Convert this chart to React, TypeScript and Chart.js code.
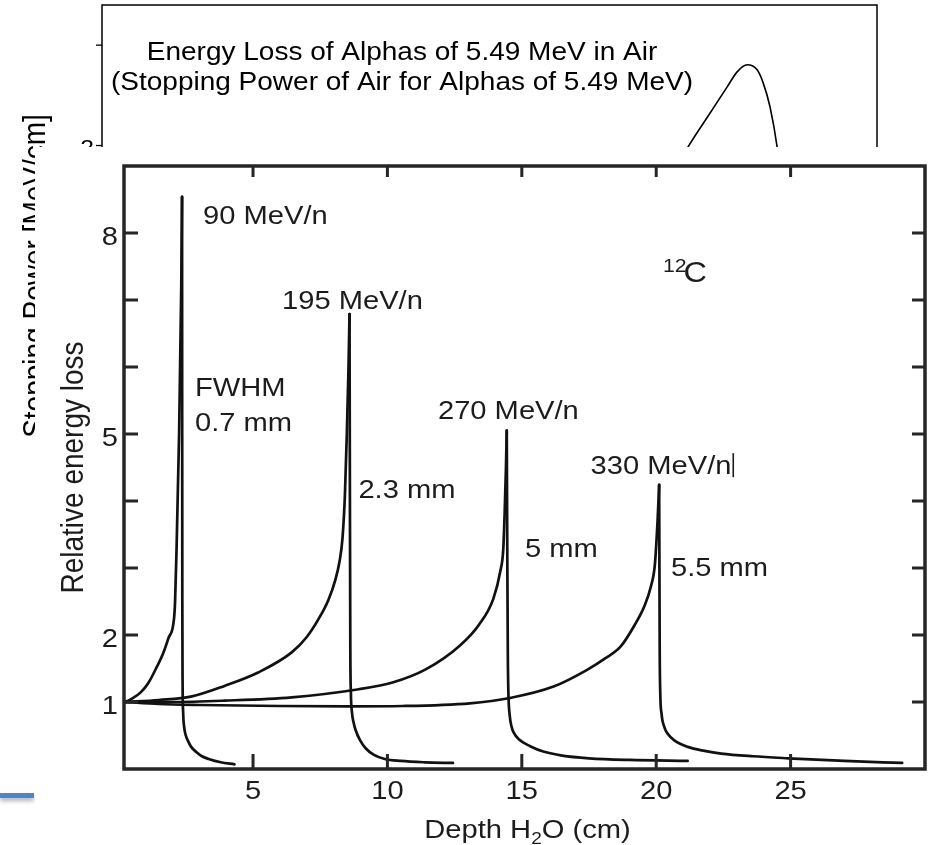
import React, { useEffect, useRef } from 'react';
import { Chart, registerables } from 'chart.js';

Chart.register(...registerables);

const FONT = '"Liberation Sans", Arial, Helvetica, sans-serif';
const SX = 1.12;
const INK = '#1c1c1c';

// ---------- background chart: stopping power of air for 5.49 MeV alphas ----------
const alphaDepth = [0, 0.5, 1.0, 1.5, 2.0, 2.5, 2.9, 3.2, 3.403, 3.531, 3.63, 3.688, 3.746, 3.804, 3.839, 3.879, 3.92, 3.98, 4.05, 4.12];
const alphaStopping = [0.9, 0.95, 1.0, 1.07, 1.16, 1.3, 1.47, 1.68, 1.993, 2.162, 2.292, 2.367, 2.402, 2.377, 2.312, 2.192, 1.993, 1.55, 0.9, 0.3];
const alphaYTicks = [0, 0.5, 1, 1.5, 2, 2.5];
const alphaYLabels = [0, 1, 2];
const alphaTitleLines = ['Energy Loss of Alphas of 5.49 MeV in Air', '(Stopping Power of Air for Alphas of 5.49 MeV)'];
const alphaTitleAnchor = { x: 1.742, y: [2.427, 2.277] };
const alphaYTitle = 'Stopping Power [MeV/cm]';

// ---------- main chart: Bragg curves of 12C in water ----------
const depth90 = [0.25, 0.5, 0.81, 1.1, 1.44, 1.65, 1.85, 2.06, 2.1, 2.15, 2.25, 2.33, 2.36,
  2.365, 2.37, 2.38, 2.4, 2.44, 2.5, 2.58, 2.7, 2.9, 3.1, 3.35, 3.8, 4.31];
const loss90 = [1.0, 1.05, 1.14, 1.28, 1.54, 1.72, 1.95, 2.24, 2.5, 3.2, 5.0, 7.2, 8.54,
  5.0, 2.5, 1.3, 0.85, 0.62, 0.5, 0.42, 0.33, 0.25, 0.19, 0.15, 0.1, 0.07];

const depth195 = [0.25, 1.5, 2.69, 3.94, 5.19, 6.44, 7.0, 7.44, 7.8, 8.06, 8.22, 8.33, 8.42, 8.49, 8.55, 8.59,
  8.605, 8.62, 8.64, 8.68, 8.75, 8.81, 8.98, 9.19, 9.5, 9.9, 10.5, 11.4, 12.44];
const loss195 = [1.0, 1.03, 1.08, 1.24, 1.44, 1.74, 1.97, 2.24, 2.52, 2.82, 3.1, 3.45, 4.1, 5.0, 5.95, 6.79,
  4.0, 1.8, 1.15, 0.85, 0.68, 0.59, 0.43, 0.31, 0.21, 0.15, 0.12, 0.1, 0.09];

const depth270 = [0.25, 2.0, 3.94, 6.44, 8.94, 10.19, 11.44, 12.69, 13.4, 13.94, 14.2, 14.31, 14.36, 14.41, 14.44,
  14.46, 14.48, 14.5, 14.55, 14.62, 14.69, 14.9, 15.31, 15.8, 16.5, 17.5, 19.0, 21.17];
const loss270 = [1.0, 1.0, 1.02, 1.07, 1.19, 1.29, 1.49, 1.84, 2.15, 2.54, 2.95, 3.28, 3.8, 4.5, 5.05,
  3.2, 1.7, 1.15, 0.8, 0.63, 0.55, 0.44, 0.34, 0.26, 0.2, 0.16, 0.135, 0.12];

const depth330 = [0.25, 1.5, 3.0, 6.0, 8.5, 10.57, 13.07, 14.56, 16.18, 17.43, 18.1, 18.68, 19.2, 19.55, 19.8, 19.95, 20.05, 20.11,
  20.12, 20.13, 20.15, 20.2, 20.3, 20.42, 20.7, 21.17, 21.8, 22.42, 23.6, 24.91, 27.0, 29.15];
const loss330 = [1.0, 0.97, 0.955, 0.94, 0.935, 0.94, 0.98, 1.06, 1.23, 1.48, 1.65, 1.83, 2.15, 2.42, 2.72, 3.05, 3.7, 4.24,
  3.0, 1.8, 1.15, 0.82, 0.63, 0.53, 0.42, 0.33, 0.27, 0.23, 0.19, 0.16, 0.12, 0.09];

const xTicks = [5, 10, 15, 20, 25];
const yTicks = [1, 2, 3, 4, 5, 6, 7, 8];
const yTickLabels = [1, 2, 5, 8];
const xTitle = [
  { t: 'Depth H', sub: false },
  { t: '2', sub: true },
  { t: 'O (cm)', sub: false },
];
const yTitle = 'Relative energy loss';

const peakLabels = [
  { text: '90 MeV/n', x: 3.14, y: 8.13 },
  { text: '195 MeV/n', x: 6.08, y: 6.86 },
  { text: 'FWHM', x: 2.84, y: 5.56 },
  { text: '0.7 mm', x: 2.84, y: 5.04 },
  { text: '2.3 mm', x: 8.92, y: 4.04 },
  { text: '270 MeV/n', x: 11.88, y: 5.23 },
  { text: '330 MeV/n', x: 17.56, y: 4.4, cursor: true },
  { text: '5 mm', x: 15.12, y: 3.16 },
  { text: '5.5 mm', x: 20.55, y: 2.88 },
];
const ionLabel = { sup: '12', text: 'C', x: 20.25, y: 7.27 };

function pts(xs: number[], ys: number[]) {
  return xs.map((x, i) => ({ x, y: ys[i] }));
}

function drawText(
  ctx: CanvasRenderingContext2D,
  text: string,
  x: number,
  y: number,
  align: CanvasTextAlign,
  font: string,
  rotate = false
): number {
  ctx.save();
  ctx.translate(x, y);
  ctx.scale(SX, 1);
  if (rotate) ctx.rotate(-Math.PI / 2);
  ctx.font = font;
  ctx.textAlign = align;
  ctx.textBaseline = 'alphabetic';
  ctx.fillText(text, 0, 0);
  const w = ctx.measureText(text).width * SX;
  ctx.restore();
  return w;
}

const bgPlugin = {
  id: 'bgDecor',
  afterDraw(chart: any) {
    const { ctx, chartArea: a, scales } = chart;
    const sx = scales.x;
    const sy = scales.y;
    ctx.save();
    ctx.strokeStyle = '#000';
    ctx.lineWidth = 1.5;
    ctx.strokeRect(a.left, a.top, a.right - a.left, a.bottom - a.top);
    ctx.lineWidth = 1.3;
    alphaYTicks.forEach((v) => {
      const py = sy.getPixelForValue(v);
      ctx.beginPath();
      ctx.moveTo(a.left - 6, py);
      ctx.lineTo(a.left, py);
      ctx.stroke();
    });
    ctx.fillStyle = '#000';
    alphaYLabels.forEach((v) => {
      const py = sy.getPixelForValue(v);
      drawText(ctx, String(v), a.left - 8, py + 9, 'right', `22px ${FONT}`);
    });
    alphaTitleLines.forEach((line, i) => {
      drawText(
        ctx,
        line,
        sx.getPixelForValue(alphaTitleAnchor.x),
        sy.getPixelForValue(alphaTitleAnchor.y[i]),
        'center',
        `25px ${FONT}`
      );
    });
    drawText(ctx, alphaYTitle, a.left - 57, (a.top + a.bottom) / 2, 'center', `28px ${FONT}`, true);
    ctx.restore();
  },
};

const mainPlugin = {
  id: 'mainDecor',
  afterDraw(chart: any) {
    const { ctx, chartArea: a, scales } = chart;
    const sx = scales.x;
    const sy = scales.y;
    ctx.save();
    ctx.strokeStyle = '#262626';
    ctx.lineWidth = 3.5;
    ctx.strokeRect(a.left, a.top, a.right - a.left, a.bottom - a.top);
    ctx.lineWidth = 3;
    ctx.lineCap = 'butt';
    yTicks.forEach((v) => {
      const py = sy.getPixelForValue(v);
      ctx.beginPath();
      ctx.moveTo(a.left, py);
      ctx.lineTo(a.left + 14, py);
      ctx.moveTo(a.right, py);
      ctx.lineTo(a.right - 13, py);
      ctx.stroke();
    });
    xTicks.forEach((v) => {
      const px = sx.getPixelForValue(v);
      ctx.beginPath();
      ctx.moveTo(px, a.bottom);
      ctx.lineTo(px, a.bottom - 15);
      ctx.moveTo(px, a.top);
      ctx.lineTo(px, a.top + 11);
      ctx.stroke();
    });

    ctx.fillStyle = INK;
    const tickFont = `26px ${FONT}`;
    yTickLabels.forEach((v) => {
      drawText(ctx, String(v), a.left - 6, sy.getPixelForValue(v) + 12, 'right', tickFont);
    });
    xTicks.forEach((v) => {
      drawText(ctx, String(v), sx.getPixelForValue(v), a.bottom + 30, 'center', tickFont);
    });

    // axis titles
    drawText(ctx, yTitle, a.left - 41, (a.top + a.bottom) / 2, 'center', `28px ${FONT}`, true);
    ctx.save();
    let total = 0;
    xTitle.forEach((p) => {
      ctx.font = `${p.sub ? 17 : 26}px ${FONT}`;
      total += ctx.measureText(p.t).width * SX;
    });
    ctx.restore();
    let cx = (a.left + a.right) / 2 + 3 - total / 2;
    const by = a.bottom + 69;
    xTitle.forEach((p) => {
      cx += drawText(ctx, p.t, cx, by + (p.sub ? 6 : 0), 'left', `${p.sub ? 17 : 26}px ${FONT}`);
    });

    // peak annotations
    peakLabels.forEach((l: any) => {
      const px = sx.getPixelForValue(l.x);
      const py = sy.getPixelForValue(l.y);
      const w = drawText(ctx, l.text, px, py, 'left', `26px ${FONT}`);
      if (l.cursor) {
        ctx.fillRect(px + w + 1, py - 21, 1.6, 24);
      }
    });
    const ipx = sx.getPixelForValue(ionLabel.x);
    const ipy = sy.getPixelForValue(ionLabel.y);
    const sw = drawText(ctx, ionLabel.sup, ipx, ipy - 10, 'left', `19px ${FONT}`);
    drawText(ctx, ionLabel.text, ipx + sw - 3, ipy, 'left', `29px ${FONT}`);
    ctx.restore();
  },
};

function braggDatasets(xs: number[], ys: number[]) {
  let k = 0;
  ys.forEach((v, i) => {
    if (v > ys[k]) k = i;
  });
  const all = pts(xs, ys);
  const style = {
    showLine: true,
    borderColor: '#111',
    borderWidth: 2.7,
    pointRadius: 0,
    cubicInterpolationMode: 'monotone',
    fill: false,
    borderJoinStyle: 'round',
    borderCapStyle: 'round',
  };
  return [
    { ...style, data: all.slice(0, k + 1) },
    { ...style, data: all.slice(k) },
  ];
}

export default function App() {
  const bgRef = useRef<HTMLCanvasElement>(null);
  const mainRef = useRef<HTMLCanvasElement>(null);

  useEffect(() => {
    const bg = new Chart(bgRef.current as HTMLCanvasElement, {
      type: 'scatter',
      data: {
        datasets: [
          {
            data: pts(alphaDepth, alphaStopping),
            showLine: true,
            borderColor: '#000',
            borderWidth: 1.6,
            pointRadius: 0,
            cubicInterpolationMode: 'monotone',
            fill: false,
          },
        ],
      },
      options: {
        animation: false,
        responsive: false,
        events: [],
        layout: { padding: { left: 102, top: 5, right: 56, bottom: 298 } },
        plugins: { legend: { display: false }, tooltip: { enabled: false } },
        scales: {
          x: { type: 'linear', min: 0, max: 4.5, display: false },
          y: { type: 'linear', min: 0, max: 2.7, display: false },
        },
      },
      plugins: [bgPlugin],
    } as any);

    const series = [
      [depth90, loss90],
      [depth195, loss195],
      [depth270, loss270],
      [depth330, loss330],
    ];
    const main = new Chart(mainRef.current as HTMLCanvasElement, {
      type: 'scatter',
      data: {
        datasets: series.flatMap(([xs, ys]) => braggDatasets(xs, ys)),
      },
      options: {
        animation: false,
        responsive: false,
        events: [],
        layout: { padding: { left: 89, top: 19, right: 8, bottom: 76 } },
        plugins: { legend: { display: false }, tooltip: { enabled: false } },
        scales: {
          x: { type: 'linear', min: 0.2, max: 30, display: false },
          y: { type: 'linear', min: 0, max: 9, display: false },
        },
      },
      plugins: [mainPlugin],
    } as any);

    return () => {
      bg.destroy();
      main.destroy();
    };
  }, []);

  return (
    <div
      style={{
        position: 'absolute',
        left: 0,
        top: 0,
        width: 933,
        height: 845,
        background: '#fff',
        overflow: 'hidden',
      }}
    >
      <canvas ref={bgRef} width={933} height={845} style={{ position: 'absolute', left: 0, top: 0 }} />
      <div
        style={{
          position: 'absolute',
          left: 0,
          top: 793,
          width: 34,
          height: 5,
          background: '#4f86c6',
          boxShadow: '0 3px 4px rgba(0,0,0,0.3)',
        }}
      />
      <div
        style={{
          position: 'absolute',
          left: 35,
          top: 147,
          width: 898,
          height: 698,
          background: '#fff',
        }}
      >
        <canvas ref={mainRef} width={898} height={698} style={{ position: 'absolute', left: 0, top: 0 }} />
      </div>
    </div>
  );
}
